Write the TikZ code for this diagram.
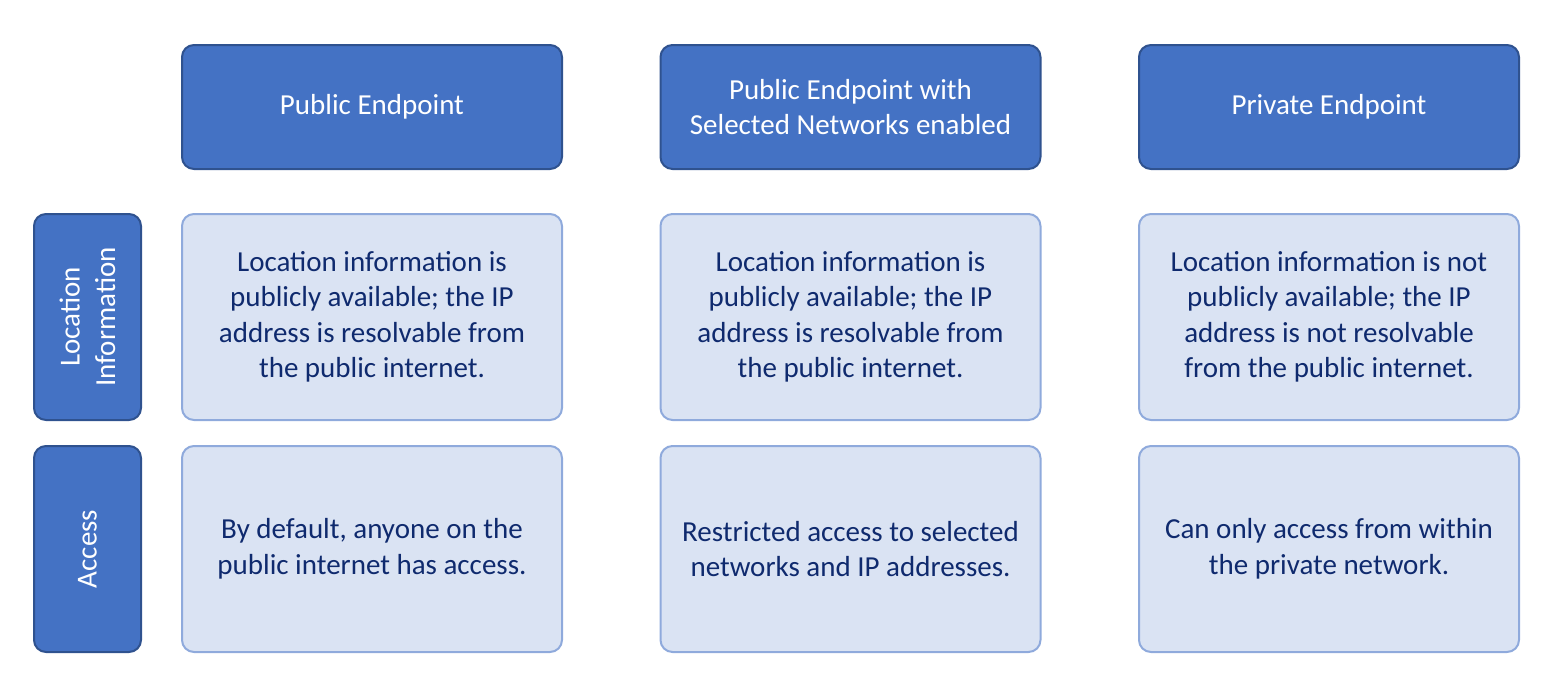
\documentclass[tikz,border=0pt]{standalone}
\usepackage{fontspec}
\setmainfont{Carlito}
\usetikzlibrary{positioning}
\definecolor{headfill}{HTML}{4472C4}
\definecolor{headline}{HTML}{2F528F}
\definecolor{cellfill}{HTML}{DAE3F3}
\definecolor{cellline}{HTML}{8FAADC}
\definecolor{celltext}{HTML}{0F2A6E}

\begin{document}
\begin{tikzpicture}[x=0.5pt,y=-0.5pt,node distance=239.25pt,on grid,
    head/.style={draw=headline,fill=headfill,line width=1pt,rounded corners=6pt,
      minimum width=190pt,minimum height=62pt,text=white,align=center,
      font=\fontsize{14.5}{17.75}\selectfont,inner sep=0pt},
    cell/.style={draw=cellline,fill=cellfill,line width=1pt,rounded corners=6pt,
      minimum width=190pt,minimum height=103pt,text=celltext,align=center,
      font=\fontsize{14.5}{17.75}\selectfont,inner sep=0pt},
    rowlabel/.style={draw=headline,fill=headfill,line width=1pt,rounded corners=6pt,
      minimum width=103pt,minimum height=53.5pt,text=white,align=center,
      font=\fontsize{14.5}{17.75}\selectfont,inner sep=0pt,rotate=90}]
   \useasboundingbox (0,0) rectangle (1554,685);
   \node[head] (h_1) at (372,107) {Public Endpoint};
   \node[head] (h_2) [right=of h_1] {Public Endpoint with\\Selected Networks enabled};
   \node[head] (h_3) [right=of h_2] {Private Endpoint};
   \node[cell] (loc_1) [below=105pt of h_1] {Location information is\\publicly available; the IP\\address is resolvable from\\the public internet.};
   \node[cell] (loc_2) [below=105pt of h_2] {Location information is\\publicly available; the IP\\address is resolvable from\\the public internet.};
   \node[cell] (loc_3) [below=105pt of h_3] {Location information is not\\publicly available; the IP\\address is not resolvable\\from the public internet.};
   \node[cell] (acc_1) [below=116pt of loc_1] {By default, anyone on the\\public internet has access.};
   \node[cell] (acc_2) [below=116pt of loc_2] {Restricted access to selected\\networks and IP addresses.};
   \node[cell] (acc_3) [below=116pt of loc_3] {Can only access from within\\the private network.};
   \node[rowlabel] (r_loc) [left=142.25pt of loc_1] {Location\\Information};
   \node[rowlabel] (r_acc) [left=142.25pt of acc_1] {Access};
\end{tikzpicture}
\end{document}
